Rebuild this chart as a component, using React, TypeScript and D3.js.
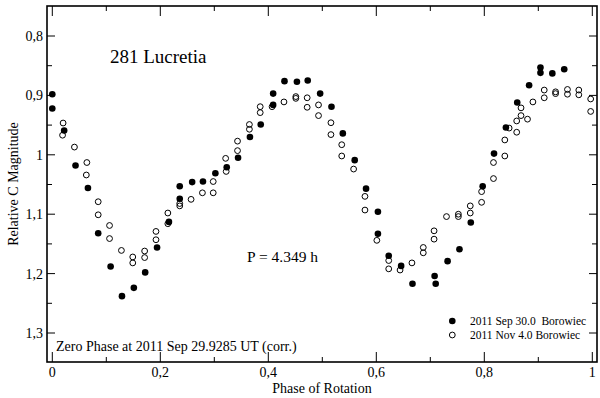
import React from 'react';
import * as d3 from 'd3';

// Sep 30.0 session (filled circles): [phase, magnitude]
const sepPhase = [0.0, 0.0, 0.022, 0.043, 0.066, 0.085, 0.108, 0.129, 0.151, 0.172, 0.194, 0.216, 0.236, 0.236, 0.259, 0.279, 0.302, 0.323, 0.344, 0.366, 0.386, 0.409, 0.409, 0.43, 0.453, 0.473, 0.496, 0.517, 0.538, 0.56, 0.581, 0.603, 0.603, 0.623, 0.646, 0.667, 0.708, 0.71, 0.732, 0.754, 0.775, 0.797, 0.818, 0.84, 0.861, 0.883, 0.904, 0.904, 0.926, 0.948];
const sepMag = [0.898, 0.922, 0.959, 1.018, 1.056, 1.132, 1.188, 1.238, 1.224, 1.198, 1.156, 1.113, 1.074, 1.053, 1.046, 1.045, 1.031, 1.021, 1.005, 0.97, 0.949, 0.916, 0.897, 0.876, 0.877, 0.875, 0.897, 0.919, 0.964, 1.009, 1.057, 1.096, 1.133, 1.17, 1.187, 1.217, 1.204, 1.217, 1.179, 1.159, 1.114, 1.053, 0.998, 0.954, 0.912, 0.883, 0.853, 0.862, 0.863, 0.856];

// Nov 4.0 session (open circles)
const novPhase = [0.02, 0.019, 0.041, 0.064, 0.063, 0.085, 0.085, 0.106, 0.106, 0.128, 0.149, 0.149, 0.171, 0.171, 0.192, 0.192, 0.214, 0.214, 0.236, 0.236, 0.257, 0.278, 0.298, 0.298, 0.321, 0.322, 0.343, 0.343, 0.365, 0.365, 0.385, 0.385, 0.407, 0.429, 0.451, 0.451, 0.472, 0.472, 0.493, 0.493, 0.516, 0.516, 0.536, 0.536, 0.558, 0.579, 0.579, 0.601, 0.623, 0.623, 0.644, 0.666, 0.687, 0.687, 0.707, 0.707, 0.73, 0.752, 0.752, 0.774, 0.774, 0.795, 0.795, 0.817, 0.817, 0.838, 0.838, 0.846, 0.86, 0.86, 0.868, 0.868, 0.88, 0.89, 0.911, 0.911, 0.932, 0.932, 0.954, 0.954, 0.975, 0.975, 0.997, 0.997];
const novMag = [0.9465, 0.967, 0.987, 1.013, 1.034, 1.079, 1.101, 1.119, 1.141, 1.161, 1.172, 1.182, 1.162, 1.173, 1.129, 1.143, 1.098, 1.116, 1.082, 1.086, 1.075, 1.064, 1.045, 1.064, 1.006, 1.028, 0.977, 0.993, 0.949, 0.957, 0.919, 0.929, 0.919, 0.911, 0.902, 0.905, 0.904, 0.92, 0.916, 0.934, 0.946, 0.966, 0.983, 1.002, 1.024, 1.07, 1.093, 1.144, 1.178, 1.192, 1.194, 1.182, 1.156, 1.165, 1.128, 1.142, 1.104, 1.1, 1.104, 1.086, 1.098, 1.08, 1.062, 1.013, 1.04, 0.975, 1.002, 0.955, 0.943, 0.962, 0.921, 0.934, 0.94, 0.911, 0.891, 0.904, 0.894, 0.897, 0.89, 0.898, 0.891, 0.899, 0.906, 0.927];

const xMajor = [0, 0.2, 0.4, 0.6, 0.8, 1];
const xMajorLabels = ['0', '0,2', '0,4', '0,6', '0,8', '1'];
const xMinor = [0.1, 0.3, 0.5, 0.7, 0.9];
const yMajor = [0.8, 0.9, 1.0, 1.1, 1.2, 1.3];
const yMajorLabels = ['0,8', '0,9', '1', '1,1', '1,2', '1,3'];
const yMinor = [0.85, 0.95, 1.05, 1.15, 1.25];

const W = 600;
const H = 398;
const left = 47, right = 597, top = 6, bottom = 362;
const font = "'Liberation Serif', 'Times New Roman', serif";

export default function App() {
  const x = d3.scaleLinear().domain([0, 1]).range([52.3, 592.3]);
  const y = d3.scaleLinear().domain([0.8, 1.3]).range([36, 333]);

  return (
    <svg width={W} height={H} style={{ position: 'absolute', left: 0, top: 0, background: '#fff' }}
      fontFamily={font}>
      <rect x={0} y={0} width={W} height={H} fill="#fff" />

      {/* ticks */}
      <g stroke="#000" strokeWidth={1}>
        {xMajor.map(v => (
          <g key={'xM' + v}>
            <line x1={x(v)} x2={x(v)} y1={bottom} y2={bottom - 10} />
            <line x1={x(v)} x2={x(v)} y1={top} y2={top + 10} />
          </g>
        ))}
        {xMinor.map(v => (
          <g key={'xm' + v}>
            <line x1={x(v)} x2={x(v)} y1={bottom} y2={bottom - 5} />
            <line x1={x(v)} x2={x(v)} y1={top} y2={top + 5} />
          </g>
        ))}
        {yMajor.map(v => (
          <g key={'yM' + v}>
            <line x1={left} x2={left + 8} y1={y(v)} y2={y(v)} />
            <line x1={right} x2={right - 8} y1={y(v)} y2={y(v)} />
          </g>
        ))}
        {yMinor.map(v => (
          <g key={'ym' + v}>
            <line x1={left} x2={left + 5} y1={y(v)} y2={y(v)} />
            <line x1={right} x2={right - 5} y1={y(v)} y2={y(v)} />
          </g>
        ))}
      </g>

      {/* frame */}
      <rect x={left} y={top} width={right - left} height={bottom - top} fill="none" stroke="#000" strokeWidth={1.6} />

      {/* tick labels */}
      {xMajor.map((v, i) => (
        <text key={'xl' + v} x={x(v)} y={377} textAnchor="middle" fontSize={14}>{xMajorLabels[i]}</text>
      ))}
      {yMajor.map((v, i) => (
        <text key={'yl' + v} x={43} y={y(v)} dy="0.35em" textAnchor="end" fontSize={14}>{yMajorLabels[i]}</text>
      ))}

      {/* axis titles */}
      <text x={322} y={393} textAnchor="middle" fontSize={14}>Phase of Rotation</text>
      <text transform="translate(18,184) rotate(-90)" textAnchor="middle" fontSize={14}>Relative C Magnitude</text>

      {/* annotations */}
      <text x={110} y={63} fontSize={19}>281 Lucretia</text>
      <text x={247} y={262} fontSize={15.5}>P = 4.349 h</text>
      <text x={56} y={351} fontSize={14}>Zero Phase at 2011 Sep 29.9285 UT (corr.)</text>

      {/* data */}
      {novPhase.map((p, i) => (
        <circle key={'n' + i} cx={x(p)} cy={y(novMag[i])} r={2.9} fill="none" stroke="#000" strokeWidth={1} />
      ))}
      {sepPhase.map((p, i) => (
        <circle key={'s' + i} cx={x(p)} cy={y(sepMag[i])} r={3.3} fill="#000" />
      ))}

      {/* legend */}
      <circle cx={452.3} cy={321} r={3.3} fill="#000" />
      <text x={470} y={324.5} fontSize={11.5} xmlSpace="preserve">2011 Sep 30.0  Borowiec</text>
      <circle cx={452.3} cy={335} r={2.9} fill="none" stroke="#000" strokeWidth={1} />
      <text x={470} y={338.5} fontSize={11.5}>2011 Nov 4.0 Borowiec</text>
    </svg>
  );
}
